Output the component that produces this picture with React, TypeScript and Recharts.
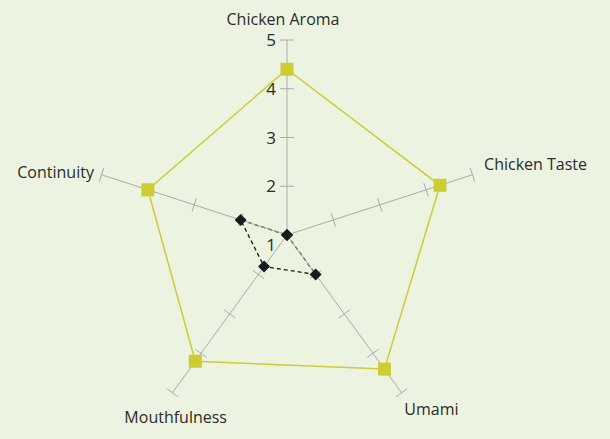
import React from 'react';
import { RadarChart, Radar, PolarAngleAxis, PolarRadiusAxis } from 'recharts';

// sensory attributes, clockwise from the top
const attributes = ['Chicken Aroma', 'Chicken Taste', 'Umami', 'Mouthfulness', 'Continuity'];
const sampleA = [4.4, 4.3, 4.4, 4.2, 4.0];
const sampleB = [1, 1, 2, 1.8, 2];
const scaleTicks = [1, 2, 3, 4, 5];

const data = attributes.map((name, i) => ({ name, a: sampleA[i], b: sampleB[i] }));

const BG = '#ECF3E0';
const AXIS = '#ABABAB';
const YELLOW = '#CCCC33';
const TEXT = '#2B2B2B';
const FONT = '"Open Sans", sans-serif';

// one radial axis per attribute (startAngle 90, clockwise)
const axisAngles = attributes.map((_, i) => 90 - (360 / attributes.length) * i);

const makeRadiusTick = (angle: number, withLabels: boolean) => (props: any) => {
  const { x, y, payload } = props;
  const rad = (angle * Math.PI) / 180;
  const px = Math.sin(rad) * 7;
  const py = Math.cos(rad) * 7;
  const v = payload.value;
  return (
    <g>
      {v > 1 && (
        <line x1={x - px} y1={y - py} x2={x + px} y2={y + py} stroke={AXIS} strokeWidth={1} />
      )}
      {withLabels && (
        <text
          x={x - 11}
          y={v === 1 ? y + 16 : y + 6}
          textAnchor="end"
          fontSize={17}
          fill={TEXT}
          fontFamily={FONT}
        >
          {v}
        </text>
      )}
    </g>
  );
};

const labelAdjust = [
  { anchor: 'middle', dx: -4, dy: -7 },
  { anchor: 'start', dx: 4, dy: -2 },
  { anchor: 'start', dx: -2, dy: 16 },
  { anchor: 'middle', dx: 8, dy: 24 },
  { anchor: 'end', dx: 0, dy: 6 },
];

const AngleTick = (props: any) => {
  const { x, y, payload, index } = props;
  const adj = labelAdjust[index] || { anchor: 'middle', dx: 0, dy: 0 };
  return (
    <text
      x={x + adj.dx}
      y={y + adj.dy}
      textAnchor={adj.anchor}
      fontSize={16}
      fill={TEXT}
      fontFamily={FONT}
    >
      {payload.value}
    </text>
  );
};

const Square = (props: any) => {
  const { cx, cy } = props;
  return <rect x={cx - 6.5} y={cy - 6.5} width={13} height={13} fill={YELLOW} />;
};

const Diamond = (props: any) => {
  const { cx, cy } = props;
  return (
    <polygon
      points={`${cx},${cy - 6} ${cx + 6},${cy} ${cx},${cy + 6} ${cx - 6},${cy}`}
      fill="#1A1A1A"
    />
  );
};

const axisId = (i: number) => (i === 0 ? 0 : `r${i}`);

export default function App() {
  return (
    <div style={{ position: 'fixed', inset: 0, background: BG }}>
      <div style={{ position: 'absolute', left: 0, top: 0 }}>
        <RadarChart
          width={610}
          height={439}
          data={data}
          cx={287}
          cy={235}
          outerRadius={195}
          startAngle={90}
          endAngle={-270}
        >
          <PolarAngleAxis dataKey="name" axisLine={false} tickLine={false} tick={AngleTick} />
          {axisAngles.map((ang, i) => (
            <PolarRadiusAxis
              key={i}
              radiusAxisId={axisId(i)}
              angle={ang}
              type="number"
              domain={[1, 5]}
              ticks={scaleTicks}
              tickCount={5}
              stroke={AXIS}
              axisLine={{ stroke: AXIS }}
              tick={makeRadiusTick(ang, i === 0)}
            />
          ))}
          {/* hidden series so the extra radial axes get drawn */}
          {axisAngles.slice(1).map((_, k) => (
            <Radar
              key={`h${k}`}
              radiusAxisId={axisId(k + 1)}
              dataKey="a"
              stroke="none"
              fill="none"
              fillOpacity={0}
              dot={false}
              legendType="none"
              isAnimationActive={false}
            />
          ))}
          <Radar
            dataKey="a"
            stroke={YELLOW}
            strokeWidth={1.5}
            fill="none"
            fillOpacity={0}
            dot={Square}
            isAnimationActive={false}
          />
          <Radar
            dataKey="b"
            stroke="#1A1A1A"
            strokeWidth={1.3}
            strokeDasharray="4 3"
            fill="none"
            fillOpacity={0}
            dot={Diamond}
            isAnimationActive={false}
          />
        </RadarChart>
      </div>
    </div>
  );
}
